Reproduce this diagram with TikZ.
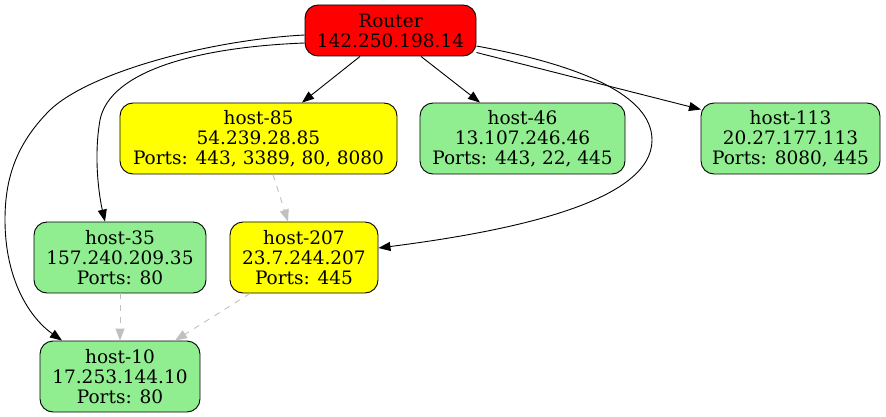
\documentclass[tikz,border=0pt]{standalone}
\usepackage{fontspec}
\setmainfont{DejaVu Serif}
\usetikzlibrary{arrows.meta}
\definecolor{lgreen}{HTML}{90EE90}
\definecolor{dgray}{HTML}{C0C0C0}
\definecolor{yel}{HTML}{FFFF00}
\definecolor{rd}{HTML}{FF0000}
\begin{document}
\begin{tikzpicture}[x=1pt,y=-1pt,
  box/.style={draw=black, line width=0.9pt, rounded corners=13pt, inner sep=0pt, align=center,
    font=\fontsize{18.5}{20}\selectfont, minimum height=71pt},
  edge/.style={line width=0.9pt, -{Triangle[length=12pt,width=9pt]}},
  dedge/.style={line width=0.9pt, draw=dgray, dash pattern=on 6pt off 6pt, -{Triangle[length=12pt,width=9pt,fill=dgray]}}]
\useasboundingbox (0,0) rectangle (886,417);
\node[box, fill=rd, minimum width=171pt, minimum height=51pt] (router) at (390.5,30.5) {Router\\142.250.198.14};
\node[box, fill=yel, minimum width=277pt] (h85) at (258.5,138.5) {host-85\\54.239.28.85\\Ports: 443, 3389, 80, 8080};
\node[box, fill=lgreen, minimum width=205pt] (h46) at (522.5,138.5) {host-46\\13.107.246.46\\Ports: 443, 22, 445};
\node[box, fill=lgreen, minimum width=179pt] (h113) at (790.5,138.5) {host-113\\20.27.177.113\\Ports: 8080, 445};
\node[box, fill=lgreen, minimum width=172pt] (h35) at (120,257.5) {host-35\\157.240.209.35\\Ports: 80};
\node[box, fill=yel, minimum width=148pt] (h207) at (304,257.5) {host-207\\23.7.244.207\\Ports: 445};
\node[box, fill=lgreen, minimum width=160pt] (h10) at (120,376.5) {host-10\\17.253.144.10\\Ports: 80};

\draw[edge] ([xshift=-30.5pt]router.south) -- ([xshift=43.5pt]h85.north);
\draw[edge] ([xshift=30.5pt]router.south) -- ([xshift=-42.5pt]h46.north);
\draw[edge] ([yshift=-22pt]router.east) -- ([xshift=-89.5pt,yshift=29pt]h113.center);
\draw[edge] ([yshift=-15.5pt]router.east) .. controls (580,65) and (652,95) .. (652,140)
  .. controls (652,200) and (520,230) .. ([yshift=9.5pt]h207.east);
\draw[edge] ([yshift=-12.5pt]router.west) .. controls (200,47) and (110,70) .. (100,120)
  .. controls (93,160) and (100,200) .. ([xshift=-15pt]h35.north);
\draw[edge] ([yshift=-4.5pt]router.west) .. controls (210,40) and (90,72) .. (50,110)
  .. controls (15,145) and (5,180) .. (5,220)
  .. controls (5,280) and (30,318) .. ([xshift=-58pt]h10.north);

\draw[dedge] ([xshift=14.5pt]h85.south) -- ([xshift=-16pt]h207.north);
\draw[dedge] (h35.south) -- (h10.north);
\draw[dedge] ([xshift=-54pt]h207.south) -- ([xshift=55pt]h10.north);
\end{tikzpicture}
\end{document}
